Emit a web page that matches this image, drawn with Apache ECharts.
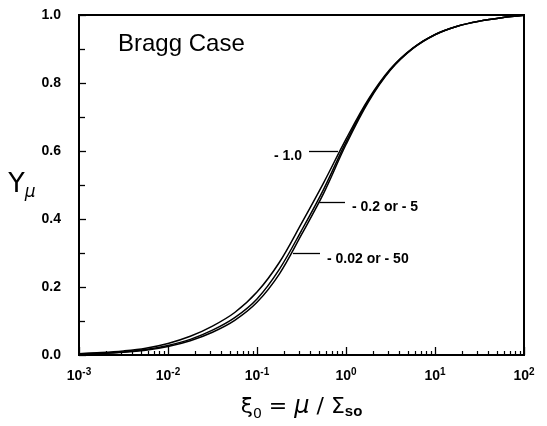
<!DOCTYPE html>
<html><head><meta charset="utf-8">
<script src="https://cdn.jsdelivr.net/npm/echarts@6/dist/echarts.min.js"></script>
<style>html,body{margin:0;padding:0;background:#fff}#c{width:547px;height:426px}</style>
</head><body><div id="c"></div>
<script>
// xi_0 = mu / Sigma_so values (log-spaced sample points)
const xi = [0.001, 0.00178, 0.00316, 0.00562, 0.01, 0.0178, 0.0316, 0.0562, 0.1, 0.178, 0.316, 0.562, 1, 1.78, 3.16, 5.62, 10, 17.8, 31.6, 56.2, 100];
// Y_mu for the three curves
const yB1    = [0.004,0.007,0.012,0.020,0.034,0.055,0.085,0.125,0.185,0.272,0.387,0.507,0.635,0.752,0.842,0.903,0.943,0.967,0.982,0.992,0.999];
const yB02   = [0.003,0.005,0.009,0.016,0.028,0.046,0.073,0.110,0.165,0.252,0.366,0.488,0.626,0.748,0.840,0.902,0.942,0.967,0.982,0.992,0.999];
const yB002  = [0.003,0.005,0.008,0.014,0.025,0.042,0.067,0.102,0.155,0.238,0.354,0.476,0.619,0.744,0.838,0.901,0.942,0.967,0.982,0.992,0.999];
const curveLabels = ['- 1.0', '- 0.2 or - 5', '- 0.02 or - 50'];
// leader lines: [xiStart, xiEnd, Y]
const leaders = [[0.384, 0.813, 0.599], [0.501, 0.975, 0.450], [0.2535, 0.510, 0.298]];
const xDecades = [-3, -2, -1, 0, 1, 2];
const yTicks = [0, 0.2, 0.4, 0.6, 0.8, 1.0];

const minorLog = [];
for (let k = -3; k < 2; k++) for (let m = 2; m < 10; m++) minorLog.push(Math.log10(m * Math.pow(10, k)));

const lg = v => Math.log10(v);
const mk = ys => xi.map((x, i) => [lg(x), ys[i]]);

const labFont = {fontFamily: 'Liberation Sans', fontWeight: 'bold', fontSize: 14, color: '#000'};
function leaderLine(i, pos) {
  const L = leaders[i];
  return {
    silent: true, symbol: ['none', 'none'],
    lineStyle: {color: '#000', width: 1.3, type: 'solid'},
    label: Object.assign({show: true, position: pos, distance: 7, offset: [0, 5], formatter: curveLabels[i]}, labFont),
    emphasis: {disabled: true},
    data: [[{coord: [lg(L[0]), L[2]]}, {coord: [lg(L[1]), L[2]]}]]
  };
}

const chart = echarts.init(document.getElementById('c'), null, {renderer: 'canvas'});
const line = (ys, ml) => ({
  type: 'line', data: mk(ys), smooth: 0.35, symbol: 'none',
  lineStyle: {color: '#000', width: 1.5}, xAxisIndex: 0, yAxisIndex: 0, markLine: ml, silent: true
});
chart.setOption({
  animation: false,
  backgroundColor: '#fff',
  grid: {left: 79, right: 23, top: 15, bottom: 69, show: true, borderColor: '#000', borderWidth: 2, backgroundColor: 'transparent'},
  xAxis: [{
    type: 'value', min: -3, max: 2, interval: 1, position: 'bottom',
    axisLine: {show: true, onZero: false, lineStyle: {color: '#000', width: 2}},
    axisTick: {show: true, inside: true, length: 8, lineStyle: {color: '#000', width: 1.3}},
    splitLine: {show: false},
    axisLabel: {
      margin: 12,
      formatter: v => '{b|10}{s|' + Math.round(v) + '}',
      rich: {
        b: {fontFamily: 'Liberation Sans', fontWeight: 'bold', fontSize: 14, color: '#000', lineHeight: 18},
        s: {fontFamily: 'Liberation Sans', fontWeight: 'bold', fontSize: 10, color: '#000', verticalAlign: 'top'}
      }
    },
    name: '{g|ξ}{sub|0}{g| = }{mu|μ}{g| / Σ}{so|so}',
    nameLocation: 'middle', nameGap: 38,
    nameTextStyle: {
      rich: {
        g: {fontFamily: 'DejaVu Sans', fontSize: 22, color: '#000', lineHeight: 28},
        sub: {fontFamily: 'DejaVu Sans', fontSize: 14, color: '#000', verticalAlign: 'bottom'},
        mu: {fontFamily: 'DejaVu Sans', fontStyle: 'italic', fontSize: 24, color: '#000'},
        so: {fontFamily: 'Liberation Sans', fontWeight: 'bold', fontSize: 15, color: '#000', verticalAlign: 'bottom', padding: [0, 0, 2, 0]}
      }
    }
  }, {
    type: 'value', min: -3, max: 2, position: 'bottom',
    axisLine: {show: false, onZero: false}, axisLabel: {show: false}, splitLine: {show: false},
    axisTick: {show: true, inside: true, length: 4, customValues: minorLog, lineStyle: {color: '#000', width: 1.2}}
  }],
  yAxis: {
    type: 'value', min: 0, max: 1, interval: 0.2,
    axisLine: {show: true, onZero: false, lineStyle: {color: '#000', width: 2}},
    axisTick: {show: true, inside: true, length: 7, lineStyle: {color: '#000', width: 1.3}},
    minorTick: {show: true, splitNumber: 2, length: 6, lineStyle: {color: '#000', width: 1.3}},
    splitLine: {show: false},
    axisLabel: {margin: 18, formatter: v => v.toFixed(1), fontFamily: 'Liberation Sans', fontWeight: 'bold', fontSize: 14, color: '#000'},
    name: '{y|Y}{mu|μ}', nameLocation: 'middle', nameRotate: 0, nameGap: 33,
    nameTextStyle: {
      rich: {
        y: {fontFamily: 'DejaVu Sans', fontSize: 27, color: '#000', lineHeight: 32},
        mu: {fontFamily: 'DejaVu Sans', fontStyle: 'italic', fontSize: 17, color: '#000', verticalAlign: 'bottom'}
      }
    }
  },
  graphic: [{type: 'text', left: 118, top: 32, style: {text: 'Bragg Case', font: '24px "Liberation Sans"', fill: '#000'}}],
  series: [
    line(yB1, leaderLine(0, 'start')),
    line(yB02, leaderLine(1, 'end')),
    line(yB002, leaderLine(2, 'end'))
  ]
});
</script></body></html>
